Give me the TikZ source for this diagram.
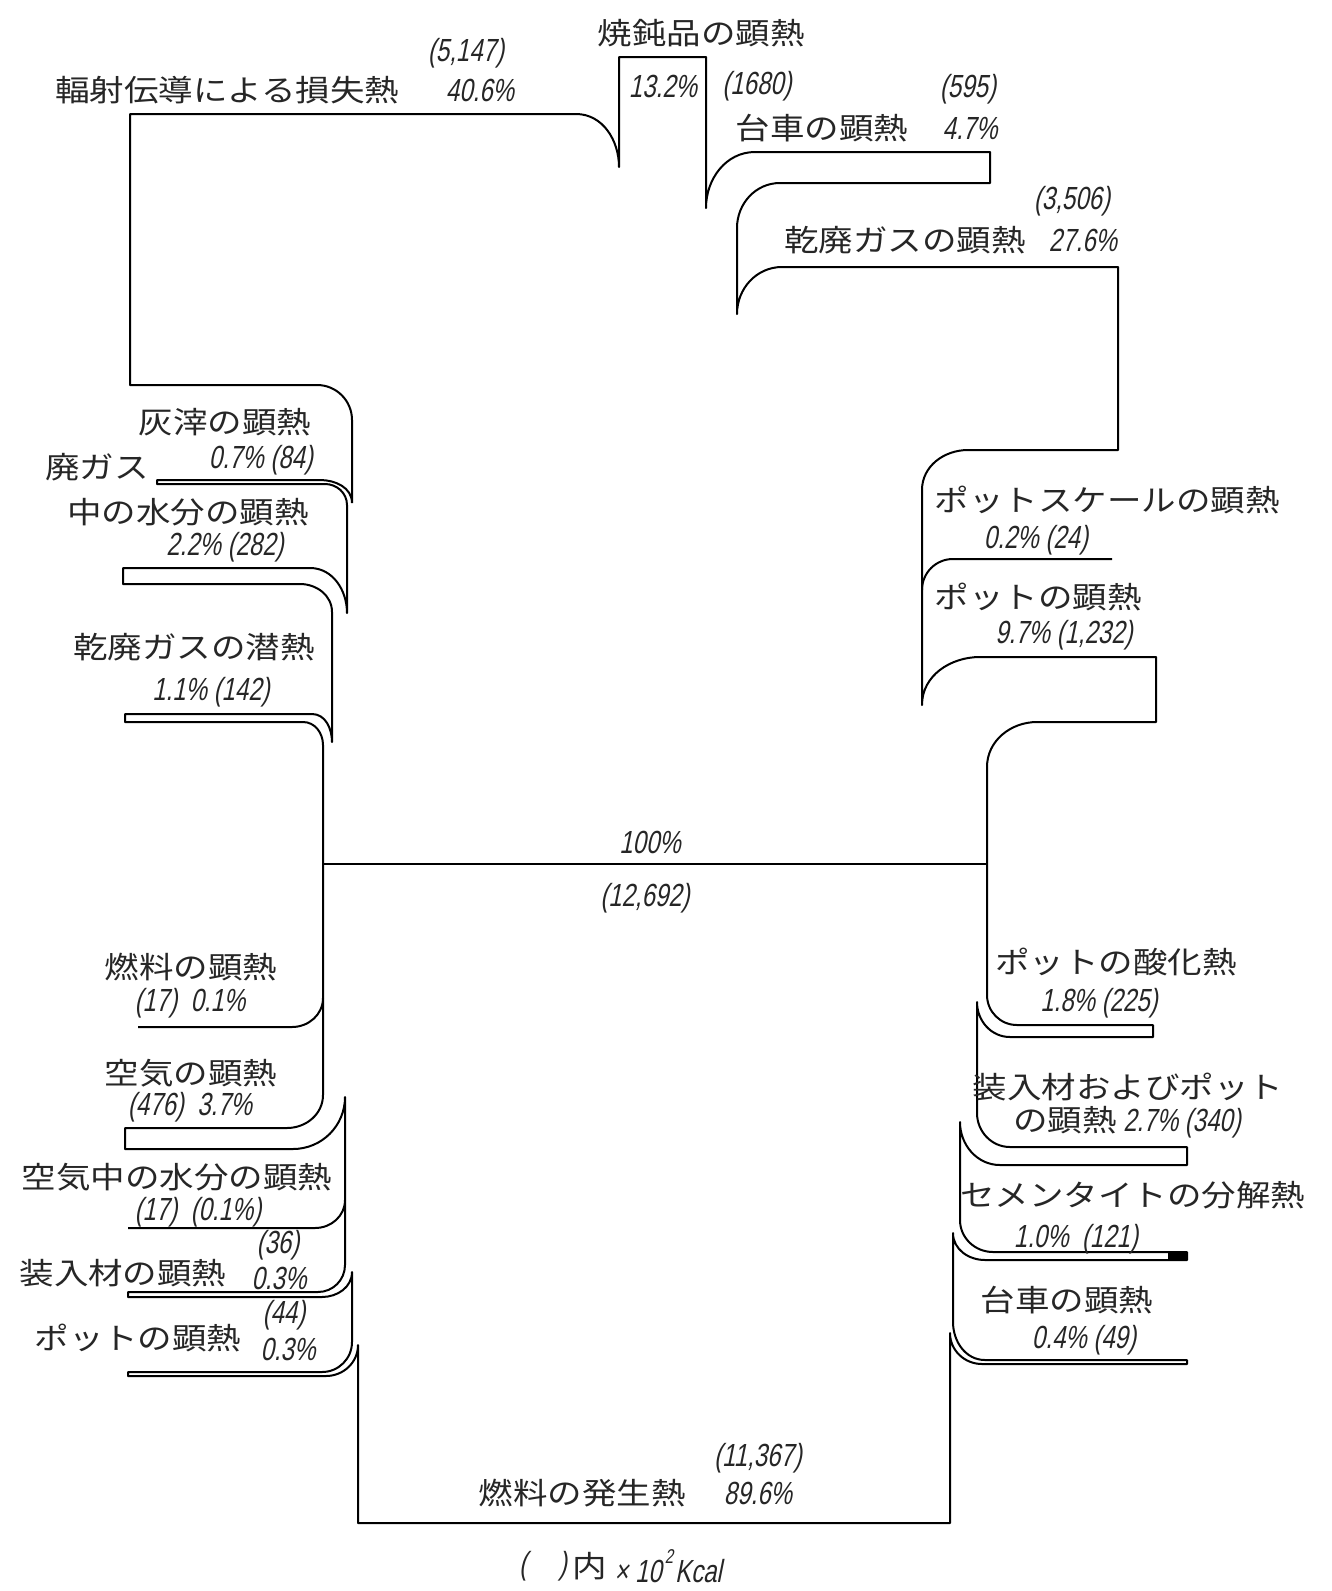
\documentclass[tikz,border=0pt]{standalone}
\usepackage{fontspec}
\newfontfamily\jpf[FakeStretch=1.15]{Noto Sans CJK JP}
\newfontfamily\numf[FakeStretch=0.75,FakeSlant=0.2]{Liberation Sans}
\newcommand{\JT}[1]{{\jpf\fontsize{15}{18}\selectfont #1}}
\newcommand{\NT}[1]{{\numf\fontsize{16}{18}\selectfont #1}}
\begin{document}
\begin{tikzpicture}[x=0.5pt,y=-0.5pt,
  ln/.style={line width=1pt,line join=round},
  lab/.style={inner sep=0pt,text=black!85}]
\useasboundingbox (0,0) rectangle (1332,1591);
% outline of the heat flow
\draw[ln] (352,503) -- (352,420) to[out=90,in=0] (317,385) -- (130,385) -- (130,114)
  -- (576,114) to[out=0,in=90] (619,167) -- (619,57) -- (706,57) -- (706,208)
  to[out=90,in=180] (755,152) -- (990,152) -- (990,183) -- (780,183)
  to[out=180,in=90] (737,228) -- (737,314)
  to[out=90,in=180] (782,267) -- (1118,267) -- (1118,450) -- (968,450)
  to[out=180,in=90] (922,490) -- (922,705)
  to[out=90,in=180] (980,657) -- (1156,657) -- (1156,722) -- (1037,722)
  to[out=180,in=90] (987,767) -- (987,995)
  to[out=270,in=180] (1017,1025) -- (1153,1025) -- (1153,1037) -- (1010,1037)
  to[out=180,in=270] (977,1002) -- (977,1113)
  to[out=270,in=180] (1010,1147) -- (1187,1147) -- (1187,1165) -- (1000,1165)
  to[out=180,in=270] (960,1122) -- (960,1220)
  to[out=270,in=180] (993,1252) -- (1187,1252) -- (1187,1260) -- (985,1260)
  to[out=180,in=270] (953,1233) -- (953,1322)
  to[out=270,in=180] (985,1360) -- (1187,1360) -- (1187,1364) -- (982,1364)
  to[out=180,in=270] (950,1333) -- (950,1523) -- (358,1523) -- (358,1345)
  to[out=270,in=0] (326,1376) -- (128,1376) -- (128,1372) -- (322,1372)
  to[out=0,in=270] (352,1342) -- (352,1272)
  to[out=270,in=0] (322,1297) -- (128,1297) -- (128,1292) -- (318,1292)
  to[out=0,in=270] (345,1265) -- (345,1097)
  to[out=270,in=0] (293,1149) -- (125,1149) -- (125,1128) -- (287,1128)
  to[out=0,in=270] (323,1095) -- (323,745)
  to[out=90,in=0] (303,722) -- (125,722) -- (125,714) -- (312,714)
  to[out=0,in=90] (332,742) -- (332,612)
  to[out=90,in=0] (300,584) -- (123,584) -- (123,568) -- (310,568)
  to[out=0,in=90] (347,613) -- (347,505)
  to[out=90,in=0] (325,484) -- (157,484) -- (157,480) -- (320,480)
  to[out=0,in=90] (352,503);
% single-line streams
\draw[ln] (1112,559) -- (953,559) to[out=180,in=90] (922,590);
\draw[ln] (138,1027) -- (292,1027) to[out=0,in=270] (323,998);
\draw[ln] (128,1228) -- (315,1228) to[out=0,in=270] (345,1200);
\draw[ln] (323,864) -- (987,864);
\fill (1168,1252) rectangle (1187,1260);
% labels
\node[lab] (v5147) at (466,53) {\NT{(5,147)}};
\node[lab] (loss) at (227,90) {\JT{輻射伝導による損失熱}};
\node[lab] (p406) at (480,90) {\NT{40.6\%}};
\node[lab] (anneal) at (701,33) {\JT{焼鈍品の顕熱}};
\node[lab] (p132) at (663,86) {\NT{13.2\%}};
\node[lab] (v1680) at (757,86) {\NT{(1680)}};
\node[lab] (v595) at (968,89) {\NT{(595)}};
\node[lab] (cart1) at (822,128) {\JT{台車の顕熱}};
\node[lab] (p47) at (970,128) {\NT{4.7\%}};
\node[lab] (v3506) at (1072,201) {\NT{(3,506)}};
\node[lab] (dry1) at (905,240) {\JT{乾廃ガスの顕熱}};
\node[lab] (p276) at (1083,240) {\NT{27.6\%}};
\node[lab] (ash) at (225,422) {\JT{灰滓の顕熱}};
\node[lab] (p07) at (261,460) {\NT{0.7\% (84)}};
\node[lab] (wg1) at (97,467) {\JT{廃ガス}};
\node[lab] (wg2) at (188,512) {\JT{中の水分の顕熱}};
\node[lab] (p22) at (225,547) {\NT{2.2\% (282)}};
\node[lab] (dry2) at (194,647) {\JT{乾廃ガスの潜熱}};
\node[lab] (p11) at (211,692) {\NT{1.1\% (142)}};
\node[lab] (scale) at (1107,500) {\JT{ポットスケールの顕熱}};
\node[lab] (p02) at (1036,540) {\NT{0.2\% (24)}};
\node[lab] (pot1) at (1038,597) {\JT{ポットの顕熱}};
\node[lab] (p97) at (1064,635) {\NT{9.7\% (1,232)}};
\node[lab] (p100) at (650,842) {\NT{100\%}};
\node[lab] (v12692) at (645,898) {\NT{(12,692)}};
\node[lab] (fuel1) at (191,967) {\JT{燃料の顕熱}};
\node[lab] (p01a) at (190,1003) {\NT{(17)\ \ 0.1\%}};
\node[lab] (air) at (191,1073) {\JT{空気の顕熱}};
\node[lab] (p37) at (190,1107) {\NT{(476)\ \ 3.7\%}};
\node[lab] (airw) at (177,1177) {\JT{空気中の水分の顕熱}};
\node[lab] (p01b) at (198,1212) {\NT{(17)\ \ (0.1\%)}};
\node[lab] (chg) at (123,1273) {\JT{装入材の顕熱}};
\node[lab] (v36) at (278,1245) {\NT{(36)}};
\node[lab] (p03a) at (279,1278) {\NT{0.3\%}};
\node[lab] (pot2) at (138,1338) {\JT{ポットの顕熱}};
\node[lab] (v44) at (284,1315) {\NT{(44)}};
\node[lab] (p03b) at (288,1349) {\NT{0.3\%}};
\node[lab] (oxid) at (1116,962) {\JT{ポットの酸化熱}};
\node[lab] (p18) at (1099,1003) {\NT{1.8\% (225)}};
\node[lab] (chgpot1) at (1128,1087) {\JT{装入材およびポット}};
\node[lab] (chgpot2) at (1127,1122) {\JT{の顕熱}\ \NT{2.7\% (340)}};
\node[lab] (cem) at (1133,1195) {\JT{セメンタイトの分解熱}};
\node[lab] (p10) at (1076,1239) {\NT{1.0\%\ \ (121)}};
\node[lab] (cart2) at (1067,1300) {\JT{台車の顕熱}};
\node[lab] (p04) at (1084,1340) {\NT{0.4\% (49)}};
\node[lab] (v11367) at (758,1458) {\NT{(11,367)}};
\node[lab] (fuelgen) at (582,1493) {\JT{燃料の発生熱}};
\node[lab] (p896) at (758,1493) {\NT{89.6\%}};
\node[lab] (unitp) at (543,1566) {\NT{(\quad)}};
\node[lab] (unitj) at (590,1566) {\JT{内}};
\node[lab, anchor=west] (unitn) at (614,1566) {\NT{× 10\kern1.5pt\raisebox{1.1ex}{\fontsize{10}{10}\selectfont 2}\kern1pt Kcal}};
\end{tikzpicture}
\end{document}
